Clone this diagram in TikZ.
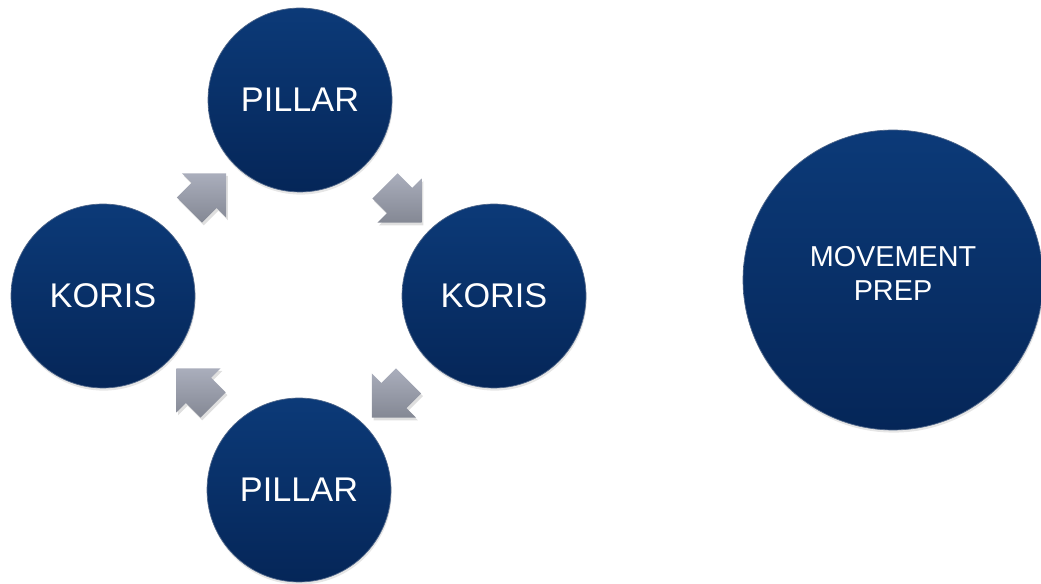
\documentclass[tikz,border=0pt]{standalone}
\usepackage{fontspec}
\setmainfont{Liberation Sans}
\usetikzlibrary{shapes.arrows,shadows,calc,positioning}

\definecolor{navytop}{RGB}{12,58,120}
\definecolor{navybot}{RGB}{5,38,88}
\definecolor{greytop}{RGB}{170,174,188}
\definecolor{greybot}{RGB}{132,136,148}

\begin{document}
\begin{tikzpicture}[
      x=0.02cm, y=0.02cm,
      disc/.style={
          circle,
          top color=navytop,
          bottom color=navybot,
          draw=navybot!70!white,
          line width=0.4pt,
          text=white,
          minimum size=3.68cm,    % all four ring circles
          inner sep=0pt,
          font=\fontsize{19.5}{22}\selectfont,
          drop shadow={opacity=0.2, shadow xshift=0.4pt, shadow yshift=-1.5pt}
      },
      bigdisc/.style={disc, minimum size=6cm},
      turn/.style={
          single arrow,
          top color=greytop,
          bottom color=greybot,
          draw=none,
          inner xsep=0pt,
          inner ysep=0.35cm,      % half the body width
          minimum height=1.04cm,
          single arrow head extend=0.27cm,
          drop shadow={opacity=0.25, shadow xshift=1pt, shadow yshift=-1.5pt}
      }
  ]
      \useasboundingbox (0,0) rectangle (1041,584);

      % Circles
      \node (pillartop) [disc] at (300,484) {PILLAR};
      \node (korisleft) [disc] at (103,288) {KORIS};
      \node (korisright) [disc] at (494,288) {KORIS};
      \node (pillarbot) [disc] at (299,94) {PILLAR};
      \node (prep) [bigdisc, label={[text=white, align=center, yshift=0.13cm,
          font=\fontsize{16.4}{19.3}\selectfont]center:MOVEMENT\\PREP}] at (893,304) {};

      % Block arrows between the circles
      \node (turna) [turn, rotate=45] at ($(korisleft)!0.5!(pillartop)$) {};
      \node (turnb) [turn, rotate=-45] at ($(pillartop)!0.5!(korisright)$) {};
      \node (turnc) [turn, rotate=-135] at ($(korisright)!0.5!(pillarbot)$) {};
      \node (turnd) [turn, rotate=135] at ($(pillarbot)!0.5!(korisleft)$) {};
  \end{tikzpicture}
\end{document}
